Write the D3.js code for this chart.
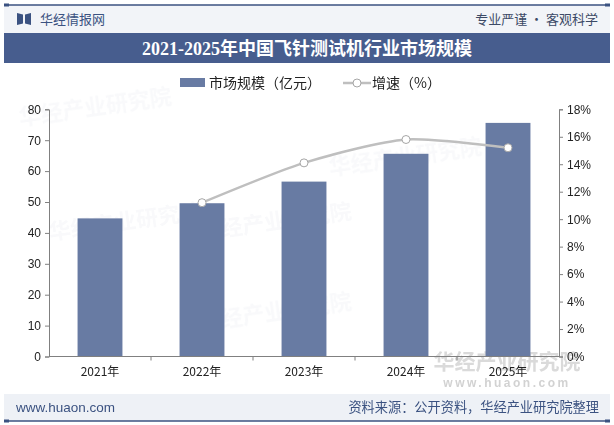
<!DOCTYPE html>
<html><head><meta charset="utf-8">
<script src="https://cdn.jsdelivr.net/npm/d3@7"></script>
<style>body{margin:0;background:#fff}svg{display:block}</style>
</head><body>
<svg id="c" width="614" height="425"></svg>
<script>
const categories = ["2021年","2022年","2023年","2024年","2025年"];
const marketSize = [44.7, 49.6, 56.6, 65.6, 75.6];
const growthYears = ["2022年","2023年","2024年","2025年"];
const growthRate = [11.2, 14.1, 15.8, 15.2];
const leftTicks = [0,10,20,30,40,50,60,70,80];
const rightTicks = [0,2,4,6,8,10,12,14,16,18];

const svg = d3.select("#c");
const navy = "#3b5281";
const cjk = "'Noto Sans CJK SC','Noto Sans',sans-serif";
const latin = "'Liberation Sans',Arial,sans-serif";

// header background
svg.append("rect").attr("x",4).attr("y",5).attr("width",606).attr("height",28).attr("fill","#f2f4f8");
svg.append("line").attr("x1",4).attr("x2",610).attr("y1",5).attr("y2",5).attr("stroke",navy).attr("stroke-width",1.5);
svg.append("rect").attr("x",4).attr("y",3.5).attr("width",5).attr("height",3).attr("fill",navy);
svg.append("rect").attr("x",605).attr("y",3.5).attr("width",5).attr("height",3).attr("fill",navy);
// icon
svg.append("path").attr("d","M17,13 L23,14.5 L23,23.5 L17,25 Z M31,13 L25,14.5 L25,23.5 L31,25 Z").attr("fill",navy);
svg.append("text").attr("x",40).attr("y",23.5).attr("font-family",cjk).attr("font-size",13).attr("fill",navy).text("华经情报网");
svg.append("text").attr("x",598).attr("y",23.5).attr("text-anchor","end").attr("font-family",cjk).attr("font-size",13).attr("fill","#3c4a66").text("专业严谨 • 客观科学");

// title band
svg.append("rect").attr("x",4).attr("y",33).attr("width",606).attr("height",30).attr("fill","#475d8e");
svg.append("text").attr("x",307).attr("y",54.5).attr("text-anchor","middle")
  .attr("font-family","'Liberation Serif','Noto Sans CJK SC',serif").attr("font-weight","bold")
  .attr("font-size",18).attr("fill","#fff").text("2021-2025年中国飞针测试机行业市场规模");

// plot
const x0 = 49, x1 = 559, yTop = 109.3, yBot = 356.5;
const x = d3.scaleBand().domain(categories).range([x0,x1]).paddingInner(0.56).paddingOuter(0.28);
const yL = d3.scaleLinear().domain([0,80]).range([yBot,yTop]);
const yR = d3.scaleLinear().domain([0,18]).range([yBot,yTop]);

// watermarks (faint)
const wm = [[20,125],[200,240],[330,175],[50,240],[200,330]];
const wmg = svg.append("g").attr("opacity",0.035);
wm.forEach(([a,b])=>{
  wmg.append("text").attr("x",a).attr("y",b).attr("transform",`rotate(-8,${a},${b})`).attr("font-family",cjk).attr("font-weight","bold").attr("font-size",22).attr("fill","#3b5281").text("华经产业研究院");
});

// bottom-right watermark (behind marks)
svg.append("text").attr("x",507).attr("y",369).attr("text-anchor","middle").attr("font-family",cjk).attr("font-weight","bold").attr("font-size",21).attr("fill","#dadada").text("华经产业研究院");
svg.append("text").attr("x",507).attr("y",387).attr("text-anchor","middle").attr("font-family",latin).attr("font-weight","bold").attr("font-size",12).attr("letter-spacing",2.5).attr("fill","#d2d2d2").text("www.huaon.com");

// bars
svg.append("g").selectAll("rect").data(marketSize).join("rect")
  .attr("x",(d,i)=>x(categories[i])).attr("width",x.bandwidth())
  .attr("y",d=>yL(d)).attr("height",d=>yBot-yL(d)).attr("fill","#687ba3");

// line
const pts = growthRate.map((d,i)=>[x(growthYears[i])+x.bandwidth()/2, yR(d)]);
svg.append("path").attr("d",d3.line().curve(d3.curveCardinal.tension(0.3))(pts))
  .attr("fill","none").attr("stroke","#bfbfbf").attr("stroke-width",2.5);
svg.append("g").selectAll("circle").data(pts).join("circle")
  .attr("cx",d=>d[0]).attr("cy",d=>d[1]).attr("r",4)
  .attr("fill","#fff").attr("stroke","#a6a6a6").attr("stroke-width",1);

// axes
const axStyle = g=>{g.selectAll("path,line").attr("stroke","#808080");
  g.selectAll("text").attr("font-family",latin).attr("font-size",12).attr("fill","#222");};
svg.append("g").attr("transform",`translate(${x0},0)`)
  .call(d3.axisLeft(yL).tickValues(leftTicks).tickSize(4).tickSizeOuter(4).tickPadding(4)).call(axStyle);
svg.append("g").attr("transform",`translate(${x1},0)`)
  .call(d3.axisRight(yR).tickValues(rightTicks).tickFormat(d=>d+"%").tickSize(4).tickSizeOuter(4).tickPadding(4)).call(axStyle);
const xa = svg.append("g").attr("transform",`translate(0,${yBot})`)
  .call(d3.axisBottom(x).tickSize(0).tickPadding(11)).call(axStyle);
xa.select(".domain").attr("d",`M${x0},0H${x1}`);
xa.selectAll("text").attr("font-family",cjk).attr("font-size",12);
const bnd = categories.slice(1).map(c=>x(c)-x.step()*x.paddingInner()/2);
xa.selectAll(".bt").data(bnd).join("line").attr("class","bt").attr("x1",d=>d).attr("x2",d=>d).attr("y1",0).attr("y2",4).attr("stroke","#808080");

// legend
svg.append("rect").attr("x",180).attr("y",78).attr("width",25).attr("height",9).attr("fill","#687ba3");
svg.append("text").attr("x",209).attr("y",88).attr("font-family",cjk).attr("font-size",14).attr("fill","#222").text("市场规模（亿元）");
svg.append("line").attr("x1",343).attr("x2",371).attr("y1",83).attr("y2",83).attr("stroke","#bfbfbf").attr("stroke-width",2.5);
svg.append("circle").attr("cx",357).attr("cy",83).attr("r",4).attr("fill","#fff").attr("stroke","#a6a6a6");
svg.append("text").attr("x",372).attr("y",88).attr("font-family",cjk).attr("font-size",14).attr("fill","#222").text("增速（%）");

// footer
svg.append("rect").attr("x",4).attr("y",394).attr("width",606).attr("height",27).attr("fill","#eef1f6");
svg.append("line").attr("x1",4).attr("x2",610).attr("y1",421).attr("y2",421).attr("stroke",navy).attr("stroke-width",1.5);
svg.append("rect").attr("x",4).attr("y",419.5).attr("width",5).attr("height",3).attr("fill",navy);
svg.append("rect").attr("x",605).attr("y",419.5).attr("width",5).attr("height",3).attr("fill",navy);
svg.append("text").attr("x",16).attr("y",412).attr("font-family",latin).attr("font-size",13.5).attr("fill","#3b5281").text("www.huaon.com");
svg.append("text").attr("x",599).attr("y",412).attr("text-anchor","end").attr("font-family",cjk).attr("font-size",13.2).attr("fill","#3b5281").text("资料来源：公开资料，华经产业研究院整理");
</script>
</body></html>
